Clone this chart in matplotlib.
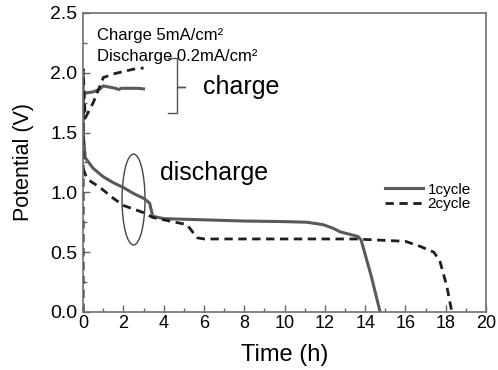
import matplotlib
matplotlib.use('Agg')
import matplotlib.pyplot as plt
from matplotlib.patches import Ellipse

plt.rcParams['font.family'] = ['Liberation Sans', 'DejaVu Sans']

# charge curves (h, V)
t_ch1 = [0.0, 0.0, 0.05, 0.1, 0.5, 0.8, 1.0, 1.3, 1.6, 1.75, 1.9, 2.3, 2.7, 3.0]
v_ch1 = [1.30, 1.80, 1.83, 1.83, 1.84, 1.86, 1.89, 1.88, 1.87, 1.86, 1.87, 1.87, 1.87, 1.865]
t_ch2 = [0.0, 0.0, 0.1, 0.5, 1.0, 1.5, 2.0, 2.5, 3.0]
v_ch2 = [0.0, 2.03, 1.62, 1.75, 1.96, 1.99, 2.01, 2.03, 2.04]

# discharge curves
t_dis1 = [0.0, 0.1, 0.5, 1.0, 1.5, 2.0, 2.5, 3.0, 3.3, 3.45, 4.0, 6.0, 8.0, 10.0, 11.1,
          11.9, 12.4, 12.75, 13.2, 13.65, 13.8, 14.3, 14.74]
v_dis1 = [1.50, 1.29, 1.20, 1.13, 1.08, 1.04, 0.99, 0.95, 0.91, 0.80, 0.78, 0.77, 0.76,
          0.755, 0.75, 0.73, 0.70, 0.67, 0.65, 0.63, 0.60, 0.30, 0.0]
t_dis2 = [0.0, 0.1, 0.3, 0.84, 1.5, 2.0, 3.0, 3.45, 4.0, 5.15, 5.66, 6.0, 8.0, 10.0, 13.5,
          16.0, 16.7, 17.4, 17.7, 18.06, 18.3]
v_dis2 = [1.20, 1.15, 1.10, 1.04, 0.95, 0.89, 0.83, 0.79, 0.77, 0.73, 0.62, 0.61, 0.61,
          0.61, 0.61, 0.59, 0.55, 0.50, 0.43, 0.21, 0.0]

c1 = '#5a5a5a'
c2 = '#1e1e1e'

fig, ax = plt.subplots(figsize=(4.98, 3.70), dpi=100)
fig.subplots_adjust(left=0.167, right=0.976, top=0.965, bottom=0.157)

ax.plot(t_dis1, v_dis1, color=c1, lw=2.2, label='1cycle')
ax.plot(t_dis2, v_dis2, color=c2, lw=2.0, ls=(0, (3, 2)), label='2cycle')
ax.plot(t_ch1, v_ch1, color=c1, lw=2.2)
ax.plot(t_ch2, v_ch2, color=c2, lw=2.0, ls=(0, (3, 2)))

ax.set_xlim(0, 20)
ax.set_ylim(0, 2.5)
ax.set_xticks(range(0, 21, 2))
ax.set_xticks(range(1, 20, 2), minor=True)
ax.set_yticks([0, 0.5, 1.0, 1.5, 2.0, 2.5])
ax.set_yticks([0.25, 0.75, 1.25, 1.75, 2.25], minor=True)
ax.set_yticklabels(['0.0', '0.5', '1.0', '1.5', '2.0', '2.5'])
ax.tick_params(which='both', direction='in', color='#666666', top=False, right=False)
ax.tick_params(which='major', length=5, width=1)
ax.tick_params(which='minor', length=3, width=1)
ax.tick_params(axis='x', labelsize=13, pad=2)
ax.tick_params(axis='y', labelsize=14, pad=4)
for s in ax.spines.values():
    s.set_color('#707070')
    s.set_linewidth(1.2)

ax.set_xlabel('Time (h)', fontsize=17, labelpad=9)
ax.set_ylabel('Potential (V)', fontsize=15.5, labelpad=12)

ax.text(0.7, 2.31, 'Charge 5mA/cm²', fontsize=12, va='center')
ax.text(0.7, 2.14, 'Discharge 0.2mA/cm²', fontsize=12, va='center')
ax.text(5.95, 1.88, 'charge', fontsize=18, va='center')
ax.text(3.8, 1.16, 'discharge', fontsize=18, va='center')

# brace and ellipse
ax.plot([4.22, 4.66, 4.66, 5.06, 4.66, 4.66, 4.22],
        [2.12, 2.12, 1.88, 1.88, 1.88, 1.66, 1.66], color='#555555', lw=1.0)
ax.add_patch(Ellipse((2.5, 0.94), 1.14, 0.76, fill=False, ec='#444444', lw=1.0))

ax.legend(loc='upper left', bbox_to_anchor=(0.73, 0.458), frameon=False, fontsize=11,
          handlelength=2.5, handletextpad=0.3, labelspacing=0.05, borderpad=0)

plt.savefig('out.png', dpi=100)
